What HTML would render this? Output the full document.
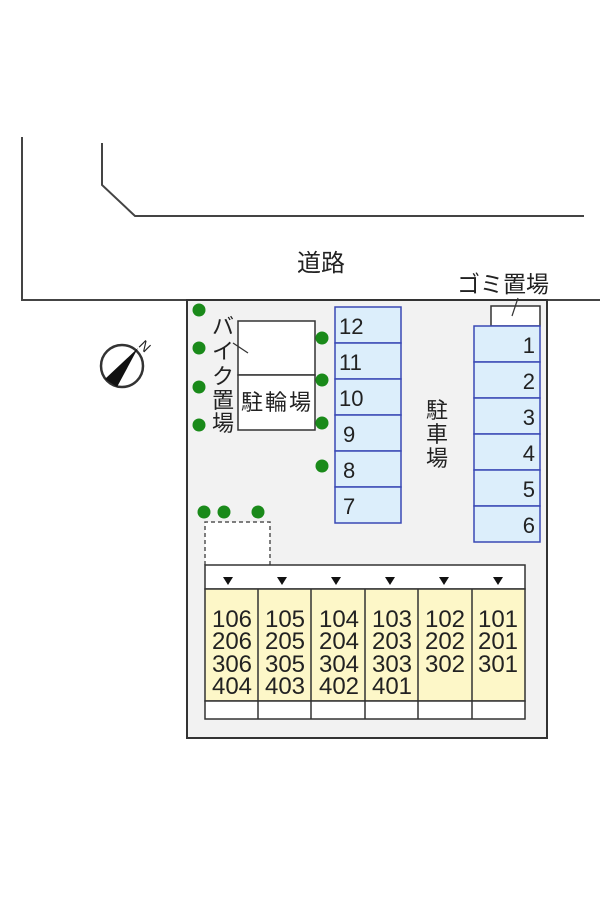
<!DOCTYPE html>
<html><head><meta charset="utf-8"><style>
html,body{margin:0;padding:0;background:#fff;}
svg{display:block;}
text{font-family:"Liberation Sans","Noto Sans CJK JP",sans-serif;fill:#222;}
</style></head><body>
<svg width="600" height="900" viewBox="0 0 600 900" xmlns="http://www.w3.org/2000/svg">
<g stroke="#444" stroke-width="2" fill="none">
<polyline points="22,137 22,300 600,300"/>
<polyline points="102,143 102,185 135,216 584,216"/>
</g>
<text x="321" y="271" font-size="24" text-anchor="middle">道路</text>
<rect x="187" y="300" width="360" height="438" fill="#f2f2f2" stroke="#333" stroke-width="2"/>
<circle cx="122" cy="366" r="21" fill="#fff" stroke="#333" stroke-width="2.5"/>
<polygon points="105,379 138,348 117,387" fill="#111"/>
<text x="145" y="351" font-size="14" transform="rotate(45 145 346)" text-anchor="middle">N</text>
<text x="503" y="292" font-size="23" text-anchor="middle">ゴミ置場</text>
<rect x="491" y="306" width="49" height="20" fill="#fff" stroke="#333" stroke-width="1.5"/>
<line x1="512" y1="316" x2="518" y2="298" stroke="#333" stroke-width="1.2"/>
<g fill="#dceefb" stroke="#3a49b5" stroke-width="1.5">
<rect x="474" y="326" width="66" height="36"/><rect x="474" y="362" width="66" height="36"/>
<rect x="474" y="398" width="66" height="36"/><rect x="474" y="434" width="66" height="36"/>
<rect x="474" y="470" width="66" height="36"/><rect x="474" y="506" width="66" height="36"/>
</g>
<g font-size="22" text-anchor="end">
<text x="535" y="353">1</text><text x="535" y="389">2</text><text x="535" y="425">3</text>
<text x="535" y="461">4</text><text x="535" y="497">5</text><text x="535" y="533">6</text>
</g>
<g fill="#dceefb" stroke="#3a49b5" stroke-width="1.5">
<rect x="335" y="307" width="66" height="36"/><rect x="335" y="343" width="66" height="36"/>
<rect x="335" y="379" width="66" height="36"/><rect x="335" y="415" width="66" height="36"/>
<rect x="335" y="451" width="66" height="36"/><rect x="335" y="487" width="66" height="36"/>
</g>
<g font-size="22">
<text x="339" y="334">12</text><text x="339" y="370">11</text><text x="339" y="406">10</text>
<text x="343" y="442">9</text><text x="343" y="478">8</text><text x="343" y="514">7</text>
</g>
<g font-size="22" text-anchor="middle">
<text x="437" y="418">駐</text><text x="437" y="442">車</text><text x="437" y="466">場</text>
</g>
<rect x="238" y="321" width="77" height="54" fill="#fff" stroke="#333" stroke-width="1.5"/>
<rect x="238" y="375" width="77" height="55" fill="#fff" stroke="#333" stroke-width="1.5"/>
<text x="276" y="410" font-size="22" text-anchor="middle" textLength="70">駐輪場</text>
<line x1="233" y1="343" x2="248" y2="353" stroke="#333" stroke-width="1.2"/>
<g font-size="22" text-anchor="middle">
<text x="223" y="334">バ</text><text x="223" y="359">イ</text><text x="223" y="384">ク</text>
<text x="223" y="408">置</text><text x="223" y="431">場</text>
</g>
<g fill="#1a8a1a">
<circle cx="199" cy="310" r="6.5"/><circle cx="199" cy="348" r="6.5"/><circle cx="199" cy="387" r="6.5"/><circle cx="199" cy="425" r="6.5"/>
<circle cx="322" cy="338" r="6.5"/><circle cx="322" cy="380" r="6.5"/><circle cx="322" cy="423" r="6.5"/><circle cx="322" cy="466" r="6.5"/>
<circle cx="204" cy="512" r="6.5"/><circle cx="224" cy="512" r="6.5"/><circle cx="258" cy="512" r="6.5"/>
</g>
<polyline points="205,565 205,522 270,522 270,565" fill="#fff" stroke="#555" stroke-width="1.5" stroke-dasharray="4,3"/>
<rect x="205" y="565" width="320" height="24" fill="#fff" stroke="#333" stroke-width="1.5"/>
<rect x="205" y="589" width="320" height="112" fill="#fdf7c8" stroke="#333" stroke-width="1.5"/>
<rect x="205" y="701" width="320" height="18" fill="#fff" stroke="#333" stroke-width="1.5"/>
<g stroke="#333" stroke-width="1.5">
<line x1="258" y1="589" x2="258" y2="719"/><line x1="311" y1="589" x2="311" y2="719"/>
<line x1="365" y1="589" x2="365" y2="719"/><line x1="418" y1="589" x2="418" y2="719"/>
<line x1="472" y1="589" x2="472" y2="719"/>
</g>
<g fill="#111">
<polygon points="223,577 233,577 228,585"/><polygon points="277,577 287,577 282,585"/>
<polygon points="331,577 341,577 336,585"/><polygon points="385,577 395,577 390,585"/>
<polygon points="439,577 449,577 444,585"/><polygon points="493,577 503,577 498,585"/>
</g>
<g font-size="24" text-anchor="middle">
<text x="232" y="627">106</text><text x="232" y="649">206</text><text x="232" y="672">306</text><text x="232" y="694">404</text>
<text x="285" y="627">105</text><text x="285" y="649">205</text><text x="285" y="672">305</text><text x="285" y="694">403</text>
<text x="339" y="627">104</text><text x="339" y="649">204</text><text x="339" y="672">304</text><text x="339" y="694">402</text>
<text x="392" y="627">103</text><text x="392" y="649">203</text><text x="392" y="672">303</text><text x="392" y="694">401</text>
<text x="445" y="627">102</text><text x="445" y="649">202</text><text x="445" y="672">302</text>
<text x="498" y="627">101</text><text x="498" y="649">201</text><text x="498" y="672">301</text>
</g>
</svg>
</body></html>
